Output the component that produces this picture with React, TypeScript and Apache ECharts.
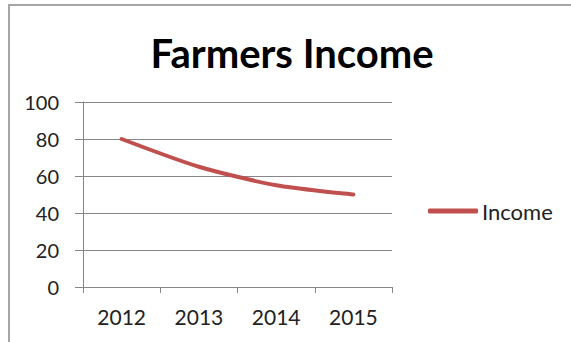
import React, { useEffect, useRef } from "react";
import * as echarts from "echarts";

const titleText = "Farmers Income";
const categories = ["2012", "2013", "2014", "2015"];
const seriesName = "Income";
const incomeValues = [80, 65, 55, 50];
const yTicks = { min: 0, max: 100, interval: 20 };

export default function App() {
  const ref = useRef<HTMLDivElement>(null);
  useEffect(() => {
    document.body.style.margin = "0";
    const chart = echarts.init(ref.current!, null, { renderer: "svg" });
    const font = "Lato, 'Open Sans', sans-serif";
    chart.setOption({
      animation: false,
      backgroundColor: "#ffffff",
      title: {
        text: titleText,
        left: 292,
        top: 33,
        padding: 0,
        textAlign: "center",
        textStyle: { fontFamily: font, fontSize: 40, fontWeight: "bold", color: "#000" },
      },
      graphic: [
        {
          type: "rect",
          shape: { x: 9, y: 5, width: 600, height: 400 },
          style: { fill: "none", stroke: "#a6a6a6", lineWidth: 2 },
          z: 100,
        },
      ],
      legend: {
        data: [seriesName],
        left: 428,
        top: 200,
        padding: 0,
        itemWidth: 50,
        itemHeight: 5,
        itemGap: 4,
        icon: "roundRect",
        textStyle: { fontFamily: font, fontSize: 22, color: "#222", padding: [0, 0, 0, -1] },
      },
      grid: { left: 83, right: 179, top: 102, bottom: 55, containLabel: false },
      xAxis: {
        type: "category",
        data: categories,
        boundaryGap: true,
        axisLine: { show: true, lineStyle: { color: "#868686", width: 1 } },
        axisTick: { show: true, length: 6, alignWithLabel: false, lineStyle: { color: "#868686" } },
        axisLabel: { fontFamily: font, fontSize: 21, color: "#222", margin: 19 },
        splitLine: { show: false },
      },
      yAxis: {
        type: "value",
        min: yTicks.min,
        max: yTicks.max,
        interval: yTicks.interval,
        axisLine: { show: true, lineStyle: { color: "#868686", width: 1 } },
        axisTick: { show: true, length: 8, lineStyle: { color: "#868686" } },
        axisLabel: { fontFamily: font, fontSize: 20, color: "#222", margin: 24 },
        splitLine: { show: true, lineStyle: { color: "#868686", width: 1 } },
      },
      series: [
        {
          name: seriesName,
          type: "line",
          data: incomeValues,
          smooth: 0.25,
          symbol: "none",
          lineStyle: { color: "#C0504D", width: 4, cap: "round" },
          itemStyle: { color: "#C0504D" },
        },
      ],
    });
    return () => chart.dispose();
  }, []);
  return <div ref={ref} style={{ width: 571, height: 342 }} />;
}
